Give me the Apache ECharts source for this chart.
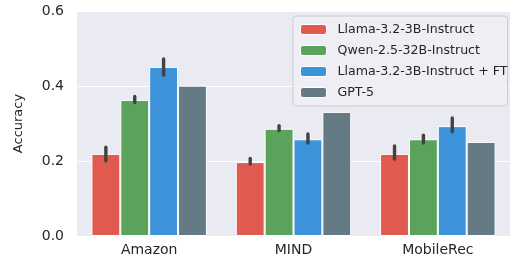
<!DOCTYPE html>
<html>
<head>
<meta charset="utf-8">
<script src="https://cdn.jsdelivr.net/npm/echarts@6/dist/echarts.min.js"></script>
<style>
  html, body { margin: 0; padding: 0; background: #fff; }
  #chart { width: 511px; height: 262px; }
</style>
</head>
<body>
<div id="chart"></div>
<script>
const categories = ['Amazon', 'MIND', 'MobileRec'];
const models = ['Llama-3.2-3B-Instruct', 'Qwen-2.5-32B-Instruct', 'Llama-3.2-3B-Instruct + FT', 'GPT-5'];
const colors = ['#e05a4f', '#5ba25b', '#3c93da', '#647b85'];

// mean accuracy per dataset
const llamaValues = [0.219, 0.197, 0.219];
const qwenValues = [0.363, 0.286, 0.258];
const llamaFtValues = [0.451, 0.258, 0.293];
const gptValues = [0.401, 0.331, 0.251];

// error bar ranges [low, high]; GPT-5 has none
const llamaErr = [[0.200, 0.237], [0.192, 0.207], [0.205, 0.240]];
const qwenErr = [[0.356, 0.372], [0.281, 0.294], [0.248, 0.269]];
const llamaFtErr = [[0.429, 0.472], [0.248, 0.272], [0.278, 0.315]];
const gptErr = null;

const yTicks = [0, 0.2, 0.4, 0.6];

const valueSets = [llamaValues, qwenValues, llamaFtValues, gptValues];
const errSets = [llamaErr, qwenErr, llamaFtErr, gptErr];

const fontFamily = 'DejaVu Sans';
const chart = echarts.init(document.getElementById('chart'));

const barSeries = models.map((name, i) => ({
  name: name,
  type: 'bar',
  data: valueSets[i],
  barGap: '0%',
  barCategoryGap: '20%',
  itemStyle: { color: colors[i], borderColor: '#ffffff', borderWidth: 1 },
  z: 2
}));

const errSeries = [];
errSets.forEach((err, i) => {
  if (!err) return;
  errSeries.push({
    type: 'custom',
    name: models[i] + ' err',
    data: err.map((e, j) => [j, e[0], e[1]]),
    z: 5,
    silent: true,
    renderItem: function (params, api) {
      const band = api.size([1, 0])[0];
      const barW = band * 0.8 / 4;
      const lo = api.coord([api.value(0), api.value(1)]);
      const hi = api.coord([api.value(0), api.value(2)]);
      const x = lo[0] - band * 0.4 + barW * (i + 0.5);
      return {
        type: 'line',
        shape: { x1: x, y1: lo[1], x2: x, y2: hi[1] },
        style: { stroke: '#424242', lineWidth: 3.4, lineCap: 'round' }
      };
    }
  });
});

chart.setOption({
  animation: false,
  textStyle: { fontFamily: fontFamily },
  grid: { left: 77, right: 1, top: 11, bottom: 26, containLabel: false, show: true, backgroundColor: '#eaeaf2', borderWidth: 0 },
  legend: {
    data: models,
    orient: 'vertical',
    left: 293,
    top: 16,
    padding: [7, 0, 7, 7],
    itemGap: 8,
    itemWidth: 26,
    itemHeight: 10,
    backgroundColor: 'rgba(238,238,244,0.9)',
    borderColor: '#cccccc',
    borderWidth: 1,
    borderRadius: 3,
    textStyle: { fontSize: 12.6, color: '#262626', fontFamily: fontFamily, padding: [0, 0, 0, 6] },
    itemStyle: { borderColor: '#ffffff', borderWidth: 1 }
  },
  xAxis: {
    type: 'category',
    data: categories,
    axisLine: { show: false },
    axisTick: { show: false },
    axisLabel: { fontSize: 14, color: '#262626', margin: 7 },
    splitLine: { show: false }
  },
  yAxis: {
    type: 'value',
    min: 0,
    max: 0.6,
    interval: 0.2,
    name: 'Accuracy',
    nameLocation: 'middle',
    nameGap: 52,
    nameTextStyle: { fontSize: 13, color: '#262626' },
    axisLine: { show: false },
    axisTick: { show: false },
    axisLabel: {
      fontSize: 14,
      color: '#262626',
      margin: 13,
      formatter: v => yTicks.includes(Math.round(v * 10) / 10) ? v.toFixed(1) : ''
    },
    splitLine: { lineStyle: { color: '#ffffff', width: 1.2 } }
  },
  series: barSeries.concat(errSeries)
});
</script>
</body>
</html>
